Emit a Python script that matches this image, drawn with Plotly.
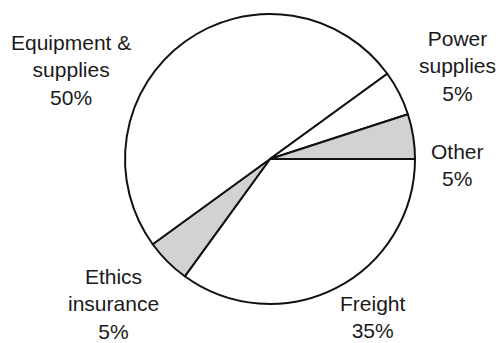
import plotly.graph_objects as go

# listed clockwise starting at 3 o'clock
labels = ["Freight", "Ethics insurance", "Equipment & supplies", "Power supplies", "Other"]
label_lines = ["Freight", "Ethics<br>insurance", "Equipment &<br>supplies", "Power<br>supplies", "Other"]
values = [35, 5, 50, 5, 5]
colors = ["#ffffff", "#d2d2d2", "#ffffff", "#ffffff", "#d2d2d2"]

# label anchor positions (pixels from top-left)
label_pos = [(373, 317), (113, 304), (71, 70), (457, 66), (457, 165)]

W, H = 499, 343
fig = go.Figure(go.Pie(
    labels=labels,
    values=values,
    sort=False,
    direction="clockwise",
    rotation=90,
    marker=dict(colors=colors, line=dict(color="#111111", width=2)),
    textinfo="none",
    hoverinfo="label+percent",
    showlegend=False,
    domain=dict(x=[125 / W, 415 / W], y=[(H - 304) / H, (H - 14) / H]),
))

annotations = []
for txt, v, (px, py) in zip(label_lines, values, label_pos):
    annotations.append(dict(
        x=px / W, y=1 - py / H, xref="paper", yref="paper",
        text=f"{txt}<br>{v}%", showarrow=False,
        xanchor="center", yanchor="middle", align="center",
        font=dict(family="Liberation Sans, Arial, sans-serif", size=21, color="#1a1a1a"),
    ))

fig.update_layout(
    width=W, height=H,
    margin=dict(l=0, r=0, t=0, b=0),
    paper_bgcolor="white", plot_bgcolor="white",
    annotations=annotations,
)
fig.write_html("out.html", config={"displayModeBar": False},
               post_script="document.body.style.margin='0';")
